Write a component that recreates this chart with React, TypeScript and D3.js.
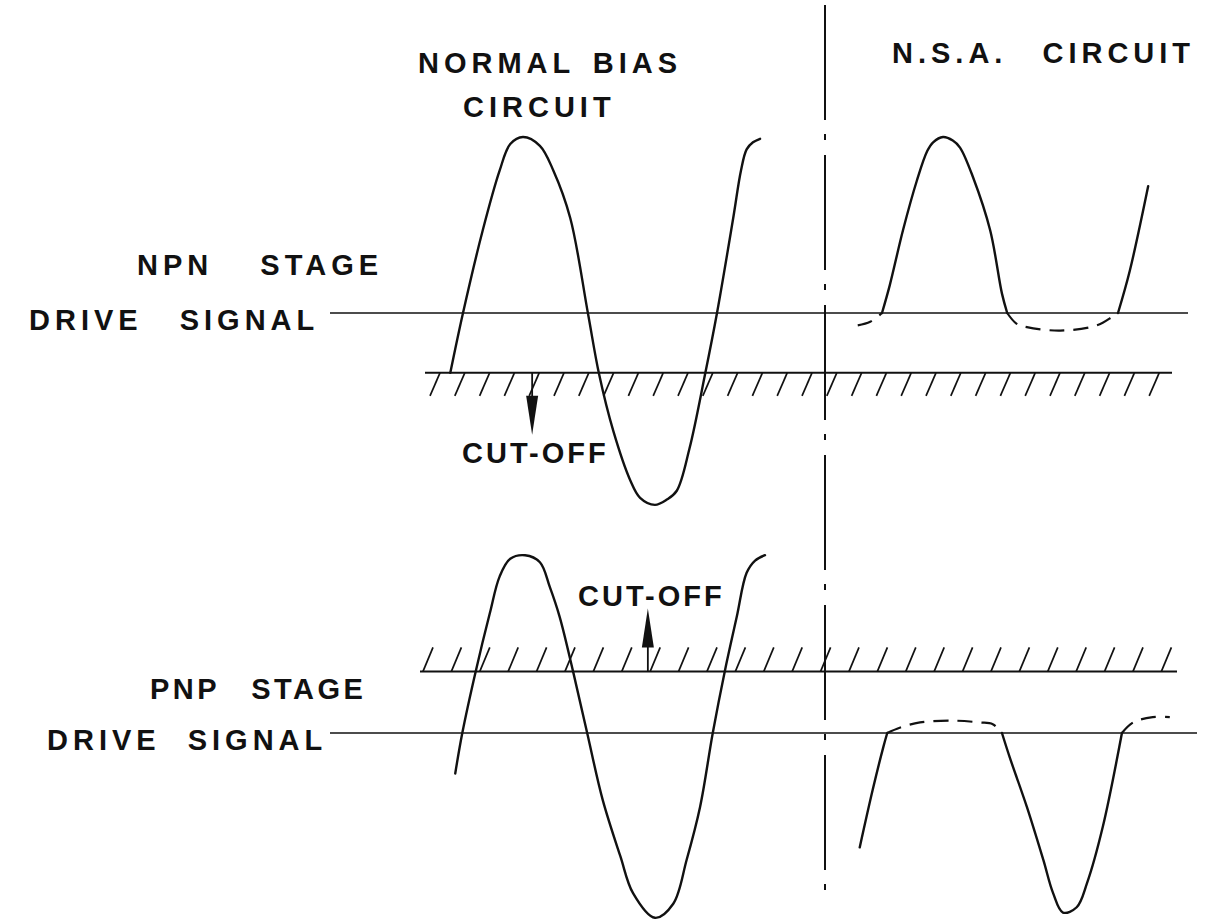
import React from "react";
import * as d3 from "d3";

// waveforms: [phase in degrees, amplitude in units of peak]
const npnNormal = [
  [-18, -0.34], [0, 0], [28, 0.47], [52, 0.81], [67, 0.96], [85, 1.0], [109, 0.95],
  [128, 0.81], [152, 0.54], [177, 0], [193, -0.35], [213, -0.67], [237, -0.95],
  [251, -1.05], [272, -1.09], [289, -1.06], [303, -1.01], [321, -0.77], [343, -0.35],
  [360, 0], [383, 0.54], [394, 0.81], [402, 0.93], [411, 0.97], [421, 0.99],
];
const npnNsaSolid1 = [
  [0, 0], [12, 0.16], [32, 0.47], [53, 0.75], [69, 0.92], [78, 0.97], [93, 1.0],
  [108, 0.98], [119, 0.94], [139, 0.77], [165, 0.47], [183, 0.11], [191, 0],
];
const npnNsaSolid2 = [[360, 0], [378, 0.24], [406, 0.72]];
const npnNsaDash1 = [[-37, -0.07], [-18, -0.05], [0, 0]];
const npnNsaDash2 = [[191, 0], [205, -0.06], [221, -0.08], [272, -0.1], [328, -0.07], [352, -0.02], [360, 0]];

const pnpNormal = [
  [-11, -0.23], [-1, 0], [18, 0.35], [38, 0.68], [52, 0.89], [67, 0.99], [88, 1.01],
  [109, 0.97], [123, 0.83], [137, 0.66], [156, 0.35], [176, 0], [198, -0.38],
  [223, -0.7], [241, -0.91], [272, -1.05], [298, -0.97], [317, -0.72], [336, -0.42],
  [354, 0], [371, 0.35], [388, 0.66], [402, 0.91], [414, 0.98], [428, 1.01],
];
const pnpNsaSolid1 = [[-34, -0.65], [-14, -0.32], [2, -0.08], [8, 0]];
const pnpNsaSolid2 = [
  [183, 0], [195, -0.14], [221, -0.42], [246, -0.72], [261, -0.91], [276, -1.02],
  [297, -0.99], [313, -0.85], [337, -0.53], [366, 0],
];
const pnpNsaDash1 = [[8, 0], [27, 0.03], [58, 0.06], [108, 0.07], [149, 0.06], [169, 0.05], [183, 0]];
const pnpNsaDash2 = [[366, 0], [383, 0.06], [413, 0.09], [439, 0.09]];

// cut-off levels and arrow phases
const npnCutoff = -0.34;
const pnpCutoff = 0.35;
const npnArrowPhase = 98;
const pnpArrowPhase = 262;

const columnTitles = ["NORMAL BIAS", "CIRCUIT", "N.S.A. CIRCUIT"];
const stageLabels = ["NPN STAGE", "DRIVE SIGNAL", "PNP STAGE", "DRIVE SIGNAL"];
const cutoffLabel = "CUT-OFF";

const W = 1223;
const H = 922;
const ink = "#111";
const font = "'Liberation Sans', Arial, sans-serif";

export default function App() {
  const xL = d3.scaleLinear().domain([0, 360]).range([463, 717]);
  const xR = d3.scaleLinear().domain([0, 360]).range([882, 1118]);
  const yT = d3.scaleLinear().domain([-1, 1]).range([313 + 176, 313 - 176]);
  const yB = d3.scaleLinear().domain([-1, 1]).range([733 + 176, 733 - 176]);

  const mk = (x: any, y: any) =>
    d3.line<number[]>().x(d => x(d[0])).y(d => y(d[1])).curve(d3.curveCatmullRom.alpha(0.5));

  const topHatch = d3.range(440, 1170, 24.8);
  const botHatch = d3.range(423, 1170, 28.4);

  const cutT = yT(npnCutoff);
  const cutB = yB(pnpCutoff);
  const aT = xL(npnArrowPhase);
  const aB = xL(pnpArrowPhase);

  const txt = { fontFamily: font, fontWeight: 700, fontSize: 29, letterSpacing: 5, fill: ink } as any;

  return (
    <svg width={W} height={H} style={{ position: "absolute", left: 0, top: 0, background: "#fff" }}>
      <rect width={W} height={H} fill="#fff" />
      {/* dash-dot divider */}
      <line x1={825} x2={825} y1={5} y2={890} stroke={ink} strokeWidth={2} strokeDasharray="115 14 6 15" />

      {/* drive signal reference lines */}
      <line x1={330} x2={1188} y1={yT(0)} y2={yT(0)} stroke={ink} strokeWidth={1.6} />
      <line x1={330} x2={1197} y1={yB(0)} y2={yB(0)} stroke={ink} strokeWidth={1.6} />

      {/* cut-off lines with hatching */}
      <line x1={425} x2={1172} y1={cutT} y2={cutT} stroke={ink} strokeWidth={2} />
      {topHatch.map((x, i) => (
        <line key={"ht" + i} x1={x} y1={cutT} x2={x - 10} y2={cutT + 23} stroke={ink} strokeWidth={1.7} />
      ))}
      <line x1={420} x2={1177} y1={cutB} y2={cutB} stroke={ink} strokeWidth={2} />
      {botHatch.map((x, i) => (
        <line key={"hb" + i} x1={x} y1={cutB} x2={x + 10} y2={cutB - 24} stroke={ink} strokeWidth={1.7} />
      ))}

      {/* arrows */}
      <line x1={aT} x2={aT} y1={cutT} y2={cutT + 26} stroke={ink} strokeWidth={1.8} />
      <path d={`M${aT - 6},${cutT + 23} L${aT + 6},${cutT + 23} L${aT},${cutT + 62} Z`} fill={ink} />
      <line x1={aB} x2={aB} y1={cutB} y2={cutB - 27} stroke={ink} strokeWidth={1.8} />
      <path d={`M${aB - 6},${cutB - 24} L${aB + 6},${cutB - 24} L${aB},${cutB - 63} Z`} fill={ink} />

      {/* waveforms */}
      <g fill="none" stroke={ink} strokeWidth={2.4} strokeLinecap="round">
        <path d={mk(xL, yT)(npnNormal as any) || ""} />
        <path d={mk(xR, yT)(npnNsaSolid1 as any) || ""} />
        <path d={mk(xR, yT)(npnNsaSolid2 as any) || ""} />
        <path d={mk(xL, yB)(pnpNormal as any) || ""} />
        <path d={mk(xR, yB)(pnpNsaSolid1 as any) || ""} />
        <path d={mk(xR, yB)(pnpNsaSolid2 as any) || ""} />
      </g>
      <g fill="none" stroke={ink} strokeWidth={2.2} strokeDasharray="15 9" strokeLinecap="butt">
        <path d={mk(xR, yT)(npnNsaDash1 as any) || ""} />
        <path d={mk(xR, yT)(npnNsaDash2 as any) || ""} />
        <path d={mk(xR, yB)(pnpNsaDash1 as any) || ""} />
        <path d={mk(xR, yB)(pnpNsaDash2 as any) || ""} />
      </g>

      {/* text */}
      <text x={418} y={73} style={{ ...txt, wordSpacing: 5 }}>{columnTitles[0]}</text>
      <text x={463} y={117} style={txt}>{columnTitles[1]}</text>
      <text x={892} y={63} style={{ ...txt, wordSpacing: 22 }}>{columnTitles[2]}</text>

      <text x={137} y={275} style={{ ...txt, wordSpacing: 34 }}>{stageLabels[0]}</text>
      <text x={29} y={330} style={{ ...txt, wordSpacing: 24 }}>{stageLabels[1]}</text>
      <text x={150} y={699} style={{ ...txt, letterSpacing: 3.5, wordSpacing: 20 }}>{stageLabels[2]}</text>
      <text x={47} y={750} style={{ ...txt, wordSpacing: 14 }}>{stageLabels[3]}</text>

      <text x={462} y={463} style={{ ...txt, letterSpacing: 3 }}>{cutoffLabel}</text>
      <text x={578} y={606} style={{ ...txt, letterSpacing: 3 }}>{cutoffLabel}</text>
    </svg>
  );
}
